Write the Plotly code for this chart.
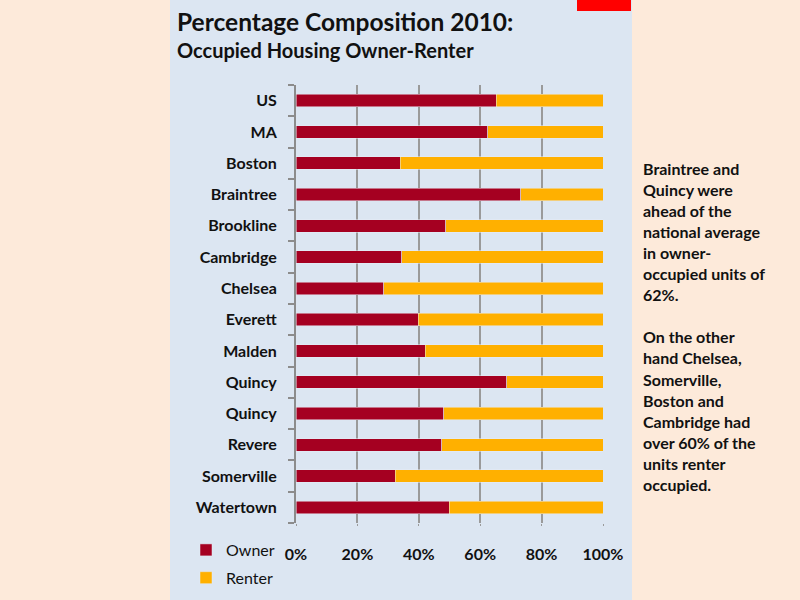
import plotly.graph_objects as go

# Share of occupied housing units, 2010
towns = ["US", "MA", "Boston", "Braintree", "Brookline", "Cambridge", "Chelsea",
         "Everett", "Malden", "Quincy", "Quincy", "Revere", "Somerville", "Watertown"]
owner = [0.652, 0.624, 0.340, 0.732, 0.488, 0.345, 0.286,
         0.398, 0.421, 0.686, 0.481, 0.475, 0.324, 0.499]
renter = [1 - v for v in owner]

note_lines = ["Braintree and", "Quincy were", "ahead of the", "national average",
              "in owner-", "occupied units of", "62%.", "",
              "On the other", "hand Chelsea,", "Somerville,", "Boston and",
              "Cambridge had", "over 60% of the", "units renter", "occupied."]

W, H = 800, 600
L, R, T, B = 296, 197, 85, 77
pw, ph = W - L - R, H - T - B

def px(x):
    return (x - L) / pw

def py(y):
    return (H - B - y) / ph

font = "Lato"
pos = list(range(len(towns)))

fig = go.Figure()
fig.add_trace(go.Bar(y=pos, x=owner, orientation="h", name="Owner", legendgroup="o",
                     marker=dict(color="#A50021"), width=0.4))
fig.add_trace(go.Bar(y=pos, x=renter, orientation="h", name="Renter", legendgroup="r",
                     marker=dict(color="#FFB000"), width=0.4))

fig.update_layout(
    width=W, height=H,
    barmode="stack",
    margin=dict(l=L, r=R, t=T, b=B, autoexpand=False),
    paper_bgcolor="#FDEADA",
    plot_bgcolor="rgba(0,0,0,0)",
    font=dict(family=font, color="#111111"),
    showlegend=True,
    legend=dict(x=px(186), y=py(533), xanchor="left", yanchor="top",
                traceorder="grouped", bgcolor="rgba(0,0,0,0)",
                font=dict(size=16, family=font), itemwidth=30, tracegroupgap=4),
    xaxis=dict(range=[0, 1], tickvals=[0, 0.2, 0.4, 0.6, 0.8, 1.0],
               tickformat=".0%", showgrid=True, gridcolor="#9A9A9A", gridwidth=1.5,
               zeroline=False, showline=False, ticks="outside", ticklen=2,
               tickcolor="#9A9A9A", ticklabelstandoff=15,
               tickfont=dict(size=16, family=font, weight="bold", color="#111111")),
    yaxis=dict(range=[len(towns) - 0.5, -0.5], tickvals=pos, ticktext=towns,
               showgrid=False, zeroline=False, showline=True, linecolor="#8C8C8C",
               linewidth=2, ticks="", ticklabelstandoff=14,
               minor=dict(tickvals=[i - 0.5 for i in range(len(towns) + 1)],
                          ticks="outside", ticklen=6, tickcolor="#8C8C8C", tickwidth=2),
               tickfont=dict(size=16, family=font, weight="bold", color="#111111")),
)

# light blue panel and red tab
fig.add_shape(type="rect", xref="paper", yref="paper", layer="below",
              x0=px(170), x1=px(632), y0=py(640), y1=py(-10),
              fillcolor="#DCE6F2", line_width=0)
fig.add_shape(type="rect", xref="paper", yref="paper",
              x0=px(577), x1=px(631), y0=py(11), y1=py(-10),
              fillcolor="#FF0000", line_width=0)

fig.add_annotation(xref="paper", yref="paper", x=px(175), y=py(5),
                   xanchor="left", yanchor="top", showarrow=False,
                   text="<b>Percentage Composition 2010:</b>",
                   font=dict(size=24.5, family=font, color="#111111"))
fig.add_annotation(xref="paper", yref="paper", x=px(175), y=py(36),
                   xanchor="left", yanchor="top", showarrow=False,
                   text="<b>Occupied Housing Owner-Renter</b>",
                   font=dict(size=20, family=font, color="#111111"))

for i, line in enumerate(note_lines):
    if not line:
        continue
    fig.add_annotation(xref="paper", yref="paper", x=px(641), y=py(168 + 21.1 * i),
                       xanchor="left", yanchor="middle", showarrow=False,
                       text="<b>" + line + "</b>",
                       font=dict(size=16, family=font, color="#111111"))

fig.write_html("out.html", config={"displayModeBar": False},
               post_script="document.body.style.margin='0';")
